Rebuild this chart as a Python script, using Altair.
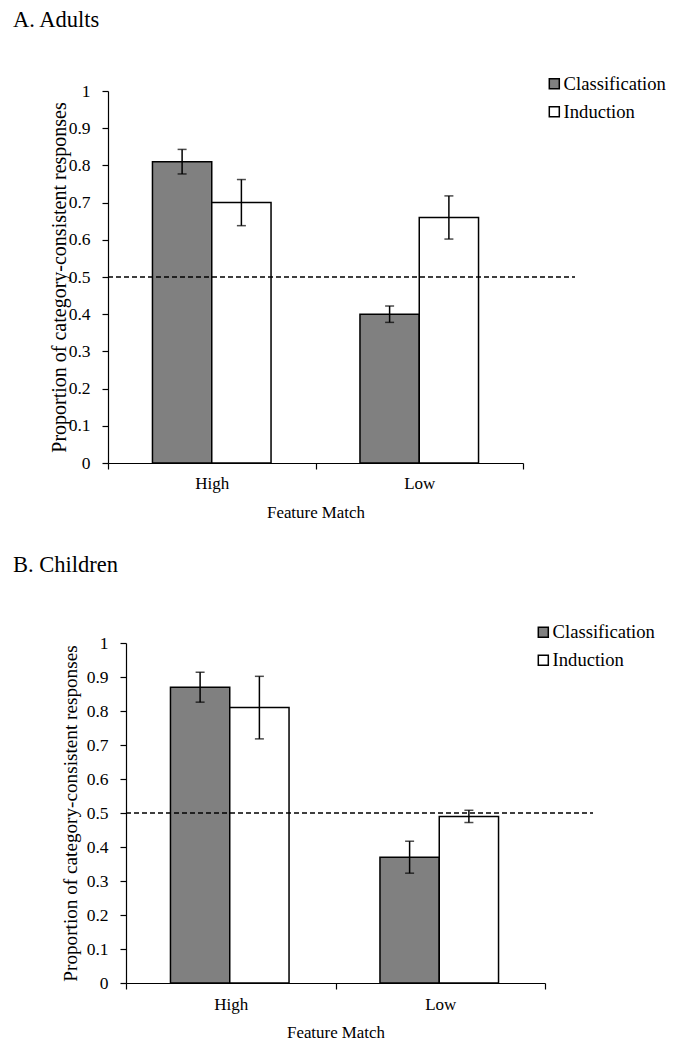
import altair as alt
import pandas as pd

# ---- data ----
feature_match = ["High", "High", "Low", "Low"]
task = ["Classification", "Induction", "Classification", "Induction"]
task_order = ["Classification", "Induction"]
task_colors = ["#808080", "#ffffff"]

adults_mean = [0.81, 0.70, 0.40, 0.66]
adults_err = [0.033, 0.062, 0.022, 0.058]
children_mean = [0.87, 0.81, 0.37, 0.49]
children_err = [0.044, 0.092, 0.047, 0.018]

y_ticks = [0, 0.1, 0.2, 0.3, 0.4, 0.5, 0.6, 0.7, 0.8, 0.9, 1]
chance_level = [0.5]

FONT = "Liberation Serif"
YTITLE = "Proportion of category-consistent responses"


def panel(title, mean, err, w, shift, h, title_offset, leg_x, leg_y,
          ytitle_size, ytitle_pad, x_label_pad, x_title_pad, ref_len):
    df = pd.DataFrame({
        "match": feature_match,
        "task": task,
        "mean": mean,
        "lo": [m - e for m, e in zip(mean, err)],
        "hi": [m + e for m, e in zip(mean, err)],
    })
    base = alt.Chart(df)

    x_axis = alt.Axis(
        title="Feature Match", labelAngle=0, tickBand="extent",
        tickSize=6, labelFontSize=17, labelPadding=x_label_pad,
        titleFontSize=16.9, titlePadding=x_title_pad,
        titleFontWeight="normal",
    )
    x_scale = alt.Scale(paddingInner=0, paddingOuter=0, range=[shift, shift + w])
    xo_enc = alt.XOffset(
        "task:N",
        scale=alt.Scale(domain=task_order, paddingInner=0, paddingOuter=0.75),
    )
    y_axis = alt.Axis(
        values=y_ticks, format="~g", tickSize=6, labelFontSize=17.5,
        labelPadding=12, labelOverlap=False, tickCount=len(y_ticks) + 10,
        titleFontSize=ytitle_size, titlePadding=ytitle_pad,
        titleFontWeight="normal", offset=-shift,
    )
    y_scale = alt.Scale(domain=[0, 1], nice=False)

    def X():
        return alt.X("match:N", scale=x_scale, axis=x_axis)

    def Y(field):
        return alt.Y(field, scale=y_scale, axis=y_axis, title=YTITLE)

    bars = base.mark_bar(stroke="black", strokeWidth=1.5).encode(
        x=X(),
        xOffset=xo_enc,
        y=Y("mean:Q"),
        fill=alt.Fill(
            "task:N",
            scale=alt.Scale(domain=task_order, range=task_colors),
            legend=alt.Legend(
                title=None, orient="none", legendX=leg_x, legendY=leg_y,
                padding=0, symbolType="square", symbolSize=100,
                symbolStrokeColor="black", symbolStrokeWidth=1.5,
                labelFont=FONT, labelFontSize=18.6, labelColor="black",
                labelOffset=0, rowPadding=9,
            ),
        ),
    )

    whiskers = base.mark_rule(color="black", strokeWidth=1.5).encode(
        x=X(), xOffset=xo_enc, y=Y("lo:Q"), y2="hi:Q",
    )
    cap_hi = base.mark_tick(color="black", thickness=1.5, size=9,
                            orient="horizontal").encode(
        x=X(), xOffset=xo_enc, y=Y("hi:Q"),
    )
    cap_lo = base.mark_tick(color="black", thickness=1.5, size=9,
                            orient="horizontal").encode(
        x=X(), xOffset=xo_enc, y=Y("lo:Q"),
    )

    ref = alt.Chart(pd.DataFrame({"chance": chance_level})).mark_rule(
        color="black", strokeWidth=1.6, strokeDash=[5, 3]
    ).encode(
        y=Y("chance:Q"),
        x=alt.value(shift),
        x2=alt.value(shift + ref_len),
    )

    return alt.layer(bars, ref, whiskers, cap_hi, cap_lo).properties(
        width=w + shift,
        height=h,
        title=alt.Title(
            title, anchor="start", frame="group", dx=-95,
            offset=title_offset, font=FONT, fontSize=22.5,
            fontWeight="normal", color="black",
        ),
    )


adults = panel("A. Adults", adults_mean, adults_err, 415, 0, 372,
               43, 437, -16.5, 20, -1, 6.5, 12.5, 467)
children = panel("B. Children", children_mean, children_err, 419, 18, 340,
                 46.5, 426, -20, 19.2, 6, 7.5, 12, 467)

chart = alt.concat(adults, children, columns=1, spacing=34, align="none").resolve_scale(
    fill="independent"
).resolve_legend(
    fill="independent"
).properties(
    padding={"left": 5, "top": 1, "right": 0, "bottom": 0}
).configure_view(
    strokeWidth=0
).configure_axis(
    grid=False, domainColor="black", domainWidth=1.2, tickColor="black",
    tickWidth=1.2, labelColor="black", titleColor="black",
    labelFont=FONT, titleFont=FONT,
)

chart.save("out.html", embed_options={"renderer": "svg", "actions": False})
